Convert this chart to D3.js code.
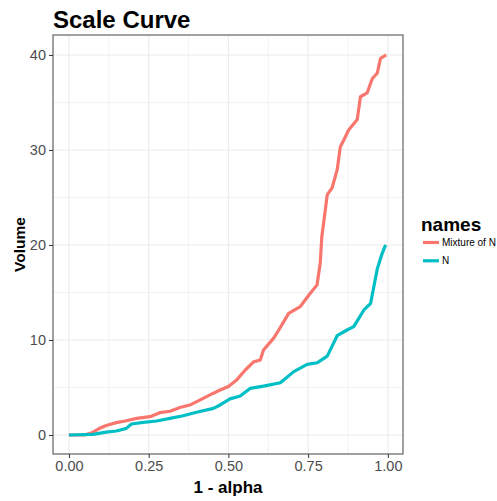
<!DOCTYPE html>
<html><head><meta charset="utf-8">
<script src="https://cdn.jsdelivr.net/npm/d3@7/dist/d3.min.js"></script>
<style>body{margin:0;background:#fff;} text{font-family:"Liberation Sans",Arial,sans-serif;}</style>
</head><body><svg id="c" width="497" height="501"></svg>
<script>
const seriesNames = ["Mixture of N", "N"];
const seriesColors = ["#F8766D", "#00BFC4"];
const mixX = [0,0.05,0.07,0.096,0.117,0.149,0.18,0.212,0.254,0.285,0.317,0.348,0.379,0.421,0.453,0.474,0.5,0.526,0.553,0.579,0.6,0.61,0.642,0.658,0.689,0.725,0.752,0.778,0.788,0.793,0.804,0.81,0.825,0.841,0.851,0.862,0.877,0.904,0.914,0.935,0.951,0.967,0.977,0.995];
const mixY = [0,0.02,0.2,0.7,1.0,1.3,1.5,1.75,1.93,2.35,2.5,2.9,3.15,3.85,4.4,4.74,5.1,5.8,6.84,7.7,7.9,8.95,10.2,11.05,12.8,13.5,14.7,15.8,18.1,20.9,23.7,25.3,26.0,27.9,30.35,31.05,32.1,33.2,35.6,36.0,37.5,38.1,39.65,40.0];
const nX = [0,0.075,0.117,0.149,0.18,0.196,0.233,0.275,0.317,0.358,0.4,0.453,0.474,0.505,0.537,0.568,0.61,0.663,0.705,0.747,0.778,0.81,0.841,0.872,0.893,0.925,0.946,0.956,0.967,0.982,0.993];
const nY = [0,0.07,0.3,0.42,0.7,1.16,1.33,1.47,1.75,2.03,2.39,2.8,3.16,3.8,4.1,4.9,5.15,5.5,6.67,7.44,7.6,8.3,10.45,11.05,11.4,13.16,13.86,15.6,17.5,19.1,20.0];
const xTicks = [0, 0.25, 0.5, 0.75, 1.0];
const xTickLabels = ["0.00","0.25","0.50","0.75","1.00"];
const yTicks = [0, 10, 20, 30, 40];
const xMinor = [0.125, 0.375, 0.625, 0.875];
const yMinor = [5, 15, 25, 35];

const svg = d3.select("#c");
const L = 53, R = 403, T = 35, B = 454;
const x = d3.scaleLinear().domain([-0.05, 1.0475]).range([L, R]);
const y = d3.scaleLinear().domain([-2, 42.1]).range([B, T]);

const g = svg.append("g");
// minor grid
g.selectAll(".vx").data(xMinor).enter().append("line")
  .attr("x1", d => x(d)).attr("x2", d => x(d)).attr("y1", T).attr("y2", B)
  .attr("stroke", "#f0f0f0").attr("stroke-width", 0.8);
g.selectAll(".hy").data(yMinor).enter().append("line")
  .attr("y1", d => y(d)).attr("y2", d => y(d)).attr("x1", L).attr("x2", R)
  .attr("stroke", "#f0f0f0").attr("stroke-width", 0.8);
// major grid
g.selectAll(".vX").data(xTicks).enter().append("line")
  .attr("x1", d => x(d)).attr("x2", d => x(d)).attr("y1", T).attr("y2", B)
  .attr("stroke", "#ebebeb").attr("stroke-width", 1.1);
g.selectAll(".hY").data(yTicks).enter().append("line")
  .attr("y1", d => y(d)).attr("y2", d => y(d)).attr("x1", L).attr("x2", R)
  .attr("stroke", "#ebebeb").attr("stroke-width", 1.1);

// lines
const line = d3.line().x(d => x(d[0])).y(d => y(d[1]));
const data = [d3.zip(mixX, mixY), d3.zip(nX, nY)];
data.forEach((d, i) => {
  svg.append("path").datum(d).attr("d", line).attr("fill", "none")
    .attr("stroke", seriesColors[i]).attr("stroke-width", 3.2)
    .attr("stroke-linejoin", "round");
});

// panel border
svg.append("rect").attr("x", L).attr("y", T).attr("width", R - L).attr("height", B - T)
  .attr("fill", "none").attr("stroke", "#555").attr("stroke-width", 1.1);

// axes
const xAxis = d3.axisBottom(x).tickValues(xTicks).tickFormat((d, i) => xTickLabels[i]).tickSizeOuter(0).tickSize(4).tickPadding(3);
const gx = svg.append("g").attr("transform", `translate(0,${B})`).call(xAxis);
gx.select(".domain").remove();
gx.selectAll("line").attr("stroke", "#333");
gx.selectAll("text").attr("fill", "#4d4d4d").style("font-size", "14.5px").style("font-family", "Liberation Sans, Arial");

const yAxis = d3.axisLeft(y).tickValues(yTicks).tickSizeOuter(0).tickSize(4).tickPadding(3);
const gy = svg.append("g").attr("transform", `translate(${L},0)`).call(yAxis);
gy.select(".domain").remove();
gy.selectAll("line").attr("stroke", "#333");
gy.selectAll("text").attr("fill", "#4d4d4d").style("font-size", "14.5px").style("font-family", "Liberation Sans, Arial");

// titles
svg.append("text").attr("x", 53).attr("y", 28).text("Scale Curve")
  .style("font-size", "24px").style("font-weight", "bold").attr("fill", "#000");
svg.append("text").attr("x", (L + R) / 2).attr("y", 493).attr("text-anchor", "middle")
  .text("1 - alpha").style("font-size", "17px").style("font-weight", "bold");
svg.append("text").attr("transform", `translate(25,${(T + B) / 2}) rotate(-90)`).attr("text-anchor", "middle")
  .text("Volume").style("font-size", "15.5px").style("font-weight", "bold");

// legend
svg.append("text").attr("x", 421).attr("y", 231).text("names")
  .style("font-size", "19px").style("font-weight", "bold");
seriesNames.forEach((n, i) => {
  const yy = 242.5 + i * 18.3;
  svg.append("line").attr("x1", 423).attr("x2", 439).attr("y1", yy).attr("y2", yy)
    .attr("stroke", seriesColors[i]).attr("stroke-width", 3.2);
  svg.append("text").attr("x", 442).attr("y", yy + 3.6).text(n)
    .style("font-size", "10px").attr("fill", "#000");
});
</script></body></html>
